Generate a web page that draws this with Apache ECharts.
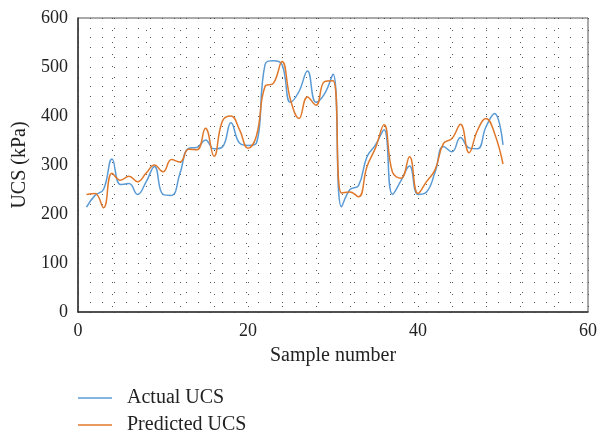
<!DOCTYPE html>
<html>
<head>
<meta charset="utf-8">
<script src="https://cdn.jsdelivr.net/npm/echarts@6/dist/echarts.min.js"></script>
<style>html,body{margin:0;padding:0;background:#fff}#c{width:600px;height:436px}</style>
</head>
<body>
<div id="c"></div>
<script>
var samples = [];
for (var i = 1; i <= 50; i++) samples.push(i);
var actualUCS = [214,238,250,312,260,262,240,265,297,240,238,283,334,336,351,333,337,386,345,340,
                 345,505,513,505,428,450,492,428,445,485,215,250,258,317,341,372,240,268,298,240,
                 245,285,338,327,356,335,333,378,405,341];
var predictedUCS = [240,242,213,283,269,277,266,283,300,286,311,306,332,331,375,318,390,400,372,334,
                    360,460,467,511,433,395,439,422,470,472,243,245,235,297,335,382,285,273,317,242,
                    266,290,344,354,383,325,371,395,365,302];
var xTicks = [0, 20, 40, 60];
var yTicks = [0, 100, 200, 300, 400, 500, 600];
var seriesNames = ['Actual UCS', 'Predicted UCS'];

function pairs(v){ return v.map(function(y,k){ return [samples[k], y]; }); }

var serif = 'Liberation Serif';
var dotStyle = { color: '#555', width: 1, type: [1, 11] };
var legendBase = {
  orient: 'vertical', left: 78, padding: 0,
  icon: 'rect', itemWidth: 34, itemHeight: 1.5,
  textStyle: { fontFamily: serif, fontSize: 20, color: '#222', padding: [0,0,0,10] }
};

var chart = echarts.init(document.getElementById('c'), null, {renderer: 'canvas'});
chart.setOption({
  animation: false,
  backgroundColor: '#fff',
  grid: { left: 78, right: 11, top: 18, bottom: 124, show: true, borderColor: '#555', borderWidth: 1 },
  xAxis: {
    type: 'value', min: xTicks[0], max: xTicks[xTicks.length-1], interval: 20,
    name: 'Sample number', nameLocation: 'middle', nameGap: 34,
    nameTextStyle: { fontFamily: serif, fontSize: 20, color: '#222' },
    axisLine: { show: true, lineStyle: { color: '#333', width: 1.5 } },
    axisTick: { show: false },
    axisLabel: { fontFamily: serif, fontSize: 18, color: '#222', margin: 10 },
    splitLine: { show: true, lineStyle: dotStyle },
    minorTick: { show: false, splitNumber: 5 },
    minorSplitLine: { show: true, lineStyle: dotStyle }
  },
  yAxis: {
    type: 'value', min: yTicks[0], max: yTicks[yTicks.length-1], interval: 100,
    name: 'UCS (kPa)', nameLocation: 'middle', nameGap: 47,
    nameTextStyle: { fontFamily: serif, fontSize: 20, color: '#222' },
    axisLine: { show: true, lineStyle: { color: '#333', width: 1.5 } },
    axisTick: { show: false },
    axisLabel: { fontFamily: serif, fontSize: 18, color: '#222', margin: 10 },
    splitLine: { show: true, lineStyle: dotStyle },
    minorTick: { show: false, splitNumber: 5 },
    minorSplitLine: { show: true, lineStyle: dotStyle }
  },
  legend: [
    Object.assign({}, legendBase, { top: 388, data: [seriesNames[0]] }),
    Object.assign({}, legendBase, { top: 415, data: [seriesNames[1]] })
  ],
  series: [
    { name: seriesNames[0], type: 'line', data: pairs(actualUCS), smooth: 0.45, symbol: 'none',
      lineStyle: { color: '#5B9BD5', width: 1.5 }, itemStyle: { color: '#5B9BD5' } },
    { name: seriesNames[1], type: 'line', data: pairs(predictedUCS), smooth: 0.45, symbol: 'none',
      lineStyle: { color: '#E0782B', width: 1.5 }, itemStyle: { color: '#E0782B' } }
  ]
});
</script>
</body>
</html>
